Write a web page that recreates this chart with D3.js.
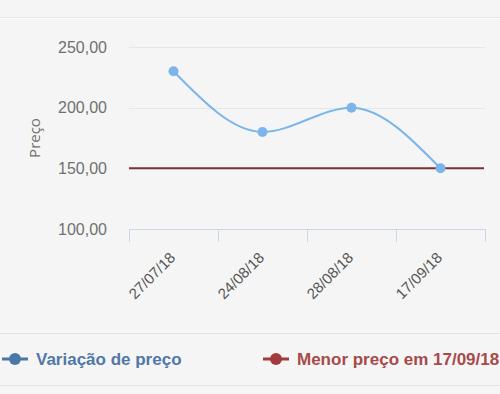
<!DOCTYPE html>
<html>
<head>
<meta charset="utf-8">
<script src="https://cdn.jsdelivr.net/npm/d3@7/dist/d3.min.js"></script>
<style>
  html, body { margin: 0; padding: 0; background: #f5f5f5; }
  svg { display: block; }
</style>
</head>
<body>
<div id="chart"></div>
<script>
// dados
var datas = ["27/07/18", "24/08/18", "28/08/18", "17/09/18"];
var precos = [230, 180, 200, 150];
var menorPreco = 150;
var yTicks = [100, 150, 200, 250];
var legendas = ["Variação de preço", "Menor preço em 17/09/18"];

var width = 500, height = 394;
var margin = { top: 47, right: 15, bottom: 165, left: 129 };

var svg = d3.select("#chart").append("svg")
  .attr("width", width)
  .attr("height", height)
  .style("font-family", "'Open Sans', sans-serif");

svg.append("rect").attr("width", width).attr("height", height).attr("fill", "#f5f5f5");
svg.append("line").attr("x1", 0).attr("x2", width).attr("y1", 17.5).attr("y2", 17.5).attr("stroke", "#e6e6e6");
svg.append("line").attr("x1", 0).attr("x2", width).attr("y1", 18.5).attr("y2", 18.5).attr("stroke", "#ffffff");

var x = d3.scaleBand().domain(datas).range([margin.left, width - margin.right]);
var y = d3.scaleLinear().domain([100, 250]).range([height - margin.bottom, margin.top]);

// grade
svg.append("g").selectAll("line").data(yTicks.filter(function (d) { return d > 100; }))
  .enter().append("line")
  .attr("x1", margin.left).attr("x2", width - margin.right)
  .attr("y1", function (d) { return Math.round(y(d)) + 0.5; })
  .attr("y2", function (d) { return Math.round(y(d)) + 0.5; })
  .attr("stroke", "#e6e6e6");

// eixo y
var yAxis = svg.append("g")
  .attr("transform", "translate(" + margin.left + ",0)")
  .call(d3.axisLeft(y).tickValues(yTicks).tickSize(0).tickPadding(22)
    .tickFormat(function (d) { return d3.format(".2f")(d).replace(".", ","); }));
yAxis.select(".domain").remove();
yAxis.selectAll("text").attr("fill", "#707070").style("font-size", "16px");

svg.append("text")
  .attr("transform", "translate(40," + ((margin.top + height - margin.bottom) / 2) + ") rotate(-90)")
  .attr("text-anchor", "middle")
  .attr("fill", "#707070")
  .style("font-size", "15px")
  .text("Preço");

// eixo x
var xAxis = svg.append("g")
  .attr("transform", "translate(0," + (height - margin.bottom) + ")")
  .call(d3.axisBottom(x).tickSize(0).tickSizeOuter(0));
xAxis.select(".domain").attr("stroke", "#ccd6eb");
xAxis.selectAll(".tick text")
  .attr("fill", "#555555")
  .style("font-size", "15px")
  .attr("text-anchor", "end")
  .attr("transform", "translate(-1,26) rotate(-45)")
  .attr("dy", "0.35em")
  .attr("y", 0).attr("x", 0);
var bordas = datas.map(function (d) { return x(d); }).concat([x.range()[1]]);
svg.append("g").selectAll("line").data(bordas).enter().append("line")
  .attr("x1", function (d) { return Math.round(d) + 0.5; })
  .attr("x2", function (d) { return Math.round(d) + 0.5; })
  .attr("y1", height - margin.bottom)
  .attr("y2", height - margin.bottom + 13)
  .attr("stroke", "#ccd6eb");

// menor preco
svg.append("line")
  .attr("x1", margin.left).attr("x2", width - margin.right - 1)
  .attr("y1", y(menorPreco)).attr("y2", y(menorPreco))
  .attr("stroke", "#7b2f2f").attr("stroke-width", 2);

// serie
var pontos = datas.map(function (d, i) { return [x(d) + x.bandwidth() / 2, y(precos[i])]; });
svg.append("path")
  .attr("d", d3.line().curve(d3.curveMonotoneX)(pontos))
  .attr("fill", "none")
  .attr("stroke", "#7cb5ec")
  .attr("stroke-width", 2);
svg.append("g").selectAll("circle").data(pontos).enter().append("circle")
  .attr("cx", function (d) { return d[0]; })
  .attr("cy", function (d) { return d[1]; })
  .attr("r", 5)
  .attr("fill", "#7cb5ec");

// legenda
svg.append("line").attr("x1", 0).attr("x2", width).attr("y1", 333.5).attr("y2", 333.5).attr("stroke", "#e3e3e3");
svg.append("line").attr("x1", 0).attr("x2", width).attr("y1", 385.5).attr("y2", 385.5).attr("stroke", "#e3e3e3");
var corLeg = ["#4f78a6", "#a64a4a"];
var corMarca = ["#4a77a8", "#a23b3b"];
var legX = [2, 263];
var item = svg.append("g").selectAll("g").data(legendas).enter().append("g")
  .attr("transform", function (d, i) { return "translate(" + legX[i] + ",359)"; });
item.append("line").attr("x1", 0).attr("x2", 26).attr("y1", 0).attr("y2", 0)
  .attr("stroke", function (d, i) { return corMarca[i]; }).attr("stroke-width", 3);
item.append("circle").attr("cx", 13).attr("cy", 0).attr("r", 6)
  .attr("fill", function (d, i) { return corMarca[i]; });
item.append("text")
  .attr("x", 34).attr("dy", "0.35em")
  .attr("fill", function (d, i) { return corLeg[i]; })
  .style("font-family", "'Liberation Sans', Arial, sans-serif")
  .style("font-size", "17px")
  .style("font-weight", "bold")
  .text(function (d) { return d; });
</script>
</body>
</html>
